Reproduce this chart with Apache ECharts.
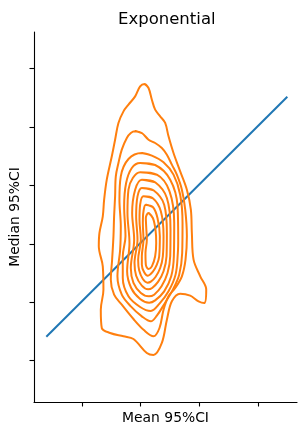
<!DOCTYPE html>
<html>
<head>
<meta charset="utf-8">
<script src="https://cdn.jsdelivr.net/npm/echarts@6/dist/echarts.min.js"></script>
<style>
html,body{margin:0;padding:0;background:#fff;}
#chart{width:308px;height:436px;}
</style>
</head>
<body>
<div id="chart"></div>
<script>
const titleText = "Exponential";
const xName = "Mean 95%CI";
const yName = "Median 95%CI";
const xTicks = [1, 2, 3, 4];
const yTicks = [0, 1, 2, 3, 4, 5];
const xRange = [0.18, 4.665];
const yRange = [-0.708, 5.628];

// reference diagonal (y = x)
const diagX = [0.39, 4.5];
const diagY = [0.41, 4.52];

// KDE contour lines, outermost first
const contour1 = [[2.064,4.737],[2.133,4.669],[2.190,4.469],[2.246,4.298],[2.332,4.184],[2.417,4.070],[2.474,3.841],[2.559,3.556],[2.673,3.242],[2.787,2.928],[2.855,2.586],[2.872,2.186],[2.901,1.729],[3.015,1.444],[3.117,1.216],[3.083,0.987],[2.986,1.016],[2.844,1.113],[2.673,1.147],[2.531,1.016],[2.446,0.702],[2.360,0.303],[2.218,0.097],[2.104,0.131],[1.876,0.371],[1.706,0.417],[1.478,0.474],[1.336,0.559],[1.319,0.873],[1.364,1.216],[1.353,1.615],[1.285,1.958],[1.296,2.186],[1.353,2.471],[1.376,2.757],[1.421,3.099],[1.507,3.499],[1.563,3.784],[1.620,4.070],[1.706,4.269],[1.791,4.384],[1.905,4.526],[1.990,4.697]];
const contour2 = [[1.905,3.927],[2.019,3.898],[2.133,3.784],[2.246,3.727],[2.360,3.642],[2.446,3.527],[2.531,3.356],[2.616,3.185],[2.702,2.928],[2.759,2.586],[2.787,2.129],[2.764,1.729],[2.702,1.444],[2.588,1.244],[2.474,1.102],[2.389,0.873],[2.320,0.559],[2.218,0.417],[2.059,0.519],[1.876,0.713],[1.677,0.959],[1.546,1.130],[1.490,1.387],[1.512,1.729],[1.535,2.129],[1.546,2.471],[1.563,2.814],[1.575,3.156],[1.620,3.385],[1.677,3.613],[1.763,3.813],[1.831,3.898]];
const contour3 = [[2.019,3.556],[2.190,3.510],[2.389,3.396],[2.559,3.185],[2.673,2.842],[2.713,2.357],[2.707,1.844],[2.656,1.473],[2.548,1.216],[2.406,0.976],[2.275,0.771],[2.172,0.674],[2.019,0.759],[1.831,0.930],[1.677,1.130],[1.603,1.444],[1.649,1.901],[1.660,2.300],[1.637,2.757],[1.660,3.156],[1.791,3.453]];
const contour4 = [[1.990,3.385],[2.246,3.350],[2.503,3.099],[2.628,2.643],[2.639,2.072],[2.633,1.844],[2.594,1.473],[2.474,1.187],[2.320,0.976],[2.172,0.850],[1.990,0.919],[1.791,1.102],[1.694,1.416],[1.694,1.787],[1.740,2.129],[1.717,2.643],[1.751,3.042],[1.848,3.299]];
const contour5 = [[1.990,3.225],[2.275,3.185],[2.491,2.900],[2.571,2.357],[2.565,1.787],[2.520,1.444],[2.400,1.187],[2.246,1.033],[2.144,0.993],[1.990,1.056],[1.837,1.244],[1.768,1.530],[1.808,2.015],[1.774,2.529],[1.791,2.928],[1.865,3.128]];
const contour6 = [[2.019,3.099],[2.246,3.054],[2.446,2.785],[2.508,2.243],[2.503,1.787],[2.457,1.501],[2.355,1.273],[2.229,1.130],[2.138,1.102],[2.002,1.159],[1.876,1.330],[1.831,1.587],[1.888,2.072],[1.854,2.529],[1.905,2.928]];
const contour7 = [[2.019,2.957],[2.218,2.917],[2.400,2.671],[2.446,2.186],[2.440,1.787],[2.389,1.530],[2.298,1.353],[2.195,1.244],[2.127,1.221],[2.019,1.284],[1.922,1.455],[1.894,1.672],[1.945,2.072],[1.922,2.471],[1.945,2.814]];
const contour8 = [[2.047,2.814],[2.207,2.780],[2.343,2.557],[2.389,2.129],[2.377,1.787],[2.332,1.587],[2.252,1.433],[2.172,1.353],[2.116,1.336],[2.036,1.398],[1.973,1.547],[1.956,1.729],[2.002,2.072],[1.979,2.414],[1.990,2.671]];
const contour9 = [[2.087,2.671],[2.207,2.631],[2.286,2.443],[2.326,2.129],[2.315,1.787],[2.275,1.644],[2.207,1.524],[2.121,1.455],[2.059,1.513],[2.019,1.644],[2.019,1.787],[2.047,2.072],[2.036,2.357],[2.047,2.557]];
const contour10 = [[2.133,2.529],[2.207,2.443],[2.252,2.243],[2.264,2.015],[2.246,1.787],[2.190,1.615],[2.133,1.570],[2.087,1.644],[2.081,1.844],[2.104,2.072],[2.093,2.300],[2.087,2.443]];

const contours = [contour1, contour2, contour3, contour4, contour5, contour6, contour7, contour8, contour9, contour10];

const chart = echarts.init(document.getElementById('chart'), null, {renderer: 'canvas'});
const font = 'DejaVu Sans';

const series = [{
  type: 'line',
  data: diagX.map((x, i) => [x, diagY[i]]),
  showSymbol: false,
  lineStyle: {color: '#1f77b4', width: 2},
  silent: true,
  z: 2
}];
contours.forEach(c => {
  series.push({
    type: 'line',
    data: c.concat([c[0], c[1]]),
    smooth: 0.35,
    showSymbol: false,
    lineStyle: {color: '#ff7f0e', width: 2},
    silent: true,
    z: 3
  });
});

const axisCommon = {
  type: 'value',
  nameLocation: 'middle',
  nameTextStyle: {fontFamily: font, fontSize: 13.9, color: '#000'},
  axisLine: {show: true, onZero: false, lineStyle: {color: '#000', width: 1.1}},
  axisLabel: {show: false},
  splitLine: {show: false},
};

chart.setOption({
  animation: false,
  backgroundColor: '#fff',
  title: {
    text: titleText,
    left: 113,
    top: 6,
    textStyle: {fontFamily: font, fontSize: 16.5, fontWeight: 'normal', color: '#000'}
  },
  grid: {left: 34, right: 11, top: 32, bottom: 34, containLabel: false},
  xAxis: Object.assign({}, axisCommon, {
    name: xName,
    nameGap: 9,
    min: xRange[0], max: xRange[1],
    axisTick: {show: true, inside: false, length: 4.5, customValues: xTicks, lineStyle: {color: '#000', width: 1.1}}
  }),
  yAxis: Object.assign({}, axisCommon, {
    name: yName,
    nameGap: 12,
    nameRotate: 90,
    min: yRange[0], max: yRange[1],
    axisTick: {show: true, inside: false, length: 4.5, customValues: yTicks, lineStyle: {color: '#000', width: 1.1}}
  }),
  series: series
});
</script>
</body>
</html>
